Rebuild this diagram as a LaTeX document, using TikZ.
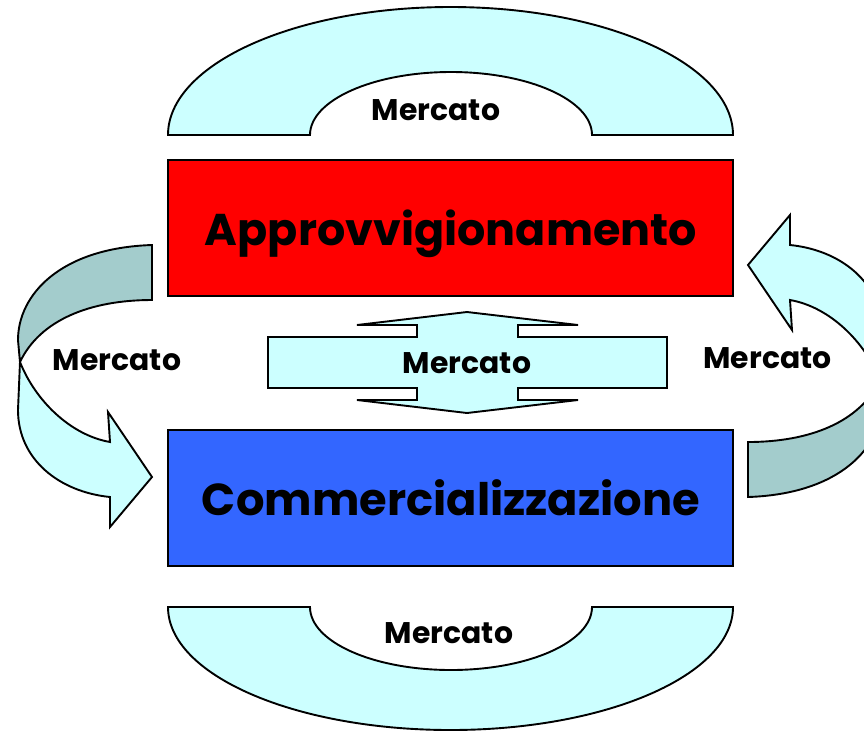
\documentclass[tikz,border=0pt]{standalone}
\usepackage{fontspec}
\usepackage{graphicx}
\newfontfamily\gothic{Poppins}
\definecolor{lightc}{HTML}{CCFFFF}
\definecolor{darkc}{HTML}{A3CCCC}
\definecolor{bluebox}{HTML}{3366FF}
\newcommand{\merc}{\resizebox{128pt}{!}{\gothic\bfseries Mercato}}
\tikzset{
  shapeline/.style={draw=black, line width=1.9pt, line join=miter},
  bigbox/.style={draw=black, line width=2pt, minimum width=565pt, minimum height=136pt, inner sep=0pt},
  lbl/.style={anchor=base, inner sep=0pt},
}
\begin{document}
\begin{tikzpicture}[x=1pt,y=-1pt]
\useasboundingbox (0,0) rectangle (864,732);
\clip (0,0) rectangle (864,732);
% top arch
\path[shapeline, fill=lightc] (168,135) arc[start angle=180, end angle=0, x radius=282.5pt, y radius=128pt]
  -- (592,135) arc[start angle=0, end angle=180, x radius=141pt, y radius=63pt] -- cycle;
% bottom arch
\path[shapeline, fill=lightc] (168,607) arc[start angle=180, end angle=360, x radius=282.5pt, y radius=123pt]
  -- (592,607) arc[start angle=0, end angle=-180, x radius=141pt, y radius=63pt] -- cycle;
% boxes
\node[bigbox, fill=red] (appr) at (450.5,228) {};
\node[bigbox, fill=bluebox] (comm) at (450.5,497.5) {};
\node[lbl] (apprt) at (451,245) {\resizebox{492pt}{!}{\gothic\bfseries Approvvigionamento}};
\node[lbl] (commt) at (451,515) {\resizebox{498pt}{!}{\gothic\bfseries Commercializzazione}};
% middle double arrow
\path[shapeline, fill=lightc] (467,312) -- (578,325) -- (518,325) -- (518,337) -- (667,337) -- (667,388)
  -- (518,388) -- (518,400) -- (578,400) -- (467,413) -- (357,400) -- (417,400) -- (417,388)
  -- (268,388) -- (268,337) -- (417,337) -- (417,325) -- (357,325) -- cycle;
% left curved arrow and its rotated copy on the right
\foreach \ang in {0,180}{
\begin{scope}[rotate around={\ang:(450,371)}]
\path[shapeline, fill=darkc] (152,245) .. controls (60,248) and (18,295) .. (18,340)
  -- (20,362) .. controls (40,320) and (90,300) .. (152,300) -- cycle;
\path[shapeline, fill=lightc] (20,362) .. controls (35,400) and (70,435) .. (110,442)
  -- (108,412) -- (152,477) -- (110,527) -- (110,497)
  .. controls (60,492) and (18,460) .. (18,410) -- cycle;
\end{scope}
}
% labels
\node[lbl] (mtop) at (436,120) {\merc};
\node[lbl] (mbot) at (449,643) {\merc};
\node[lbl] (mleft) at (117,370) {\merc};
\node[lbl] (mright) at (767.5,368) {\merc};
\node[lbl] (mmid) at (467,373) {\merc};
\end{tikzpicture}
\end{document}
